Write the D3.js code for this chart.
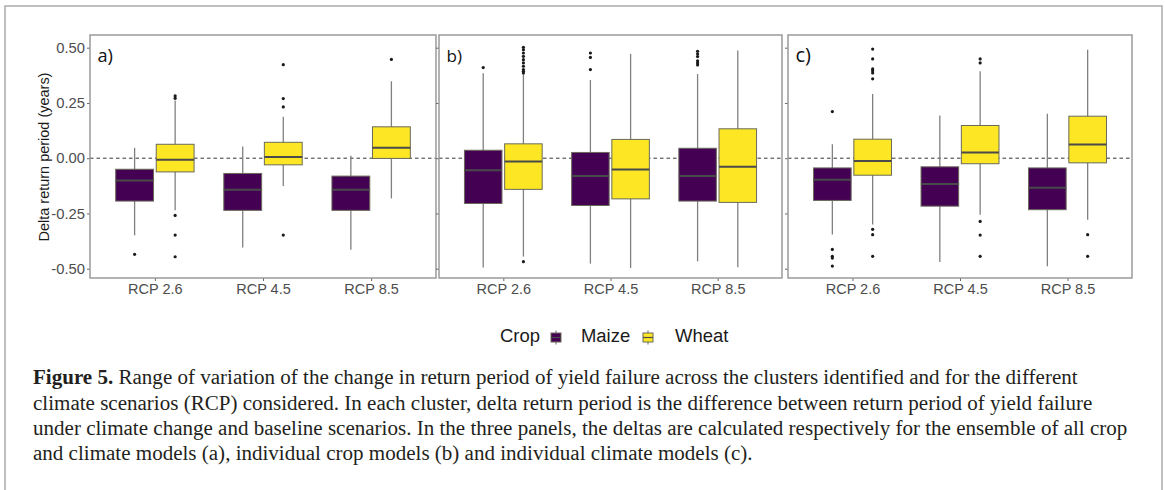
<!DOCTYPE html>
<html><head><meta charset="utf-8">
<script src="https://cdn.jsdelivr.net/npm/d3@7"></script>
<style>body{margin:0;background:#fff} svg{display:block}</style>
</head><body><svg id="c" width="1165" height="490"></svg>
<script>
// ---------- data ----------
const scenarios = ["RCP 2.6", "RCP 4.5", "RCP 8.5"];
const crops = ["Maize", "Wheat"];
const cropColors = ["#440154", "#FDE725"];
const panelLabels = ["a)", "b)", "c)"];
const yTicks = [0.5, 0.25, 0, -0.25, -0.5];
const yTitle = "Delta return period (years)";
const legendTitle = "Crop";

// box stats per scenario: [lower whisker, q1, median, q3, upper whisker]
const panelA_maize = [[-0.349, -0.194, -0.101, -0.050, 0.047], [-0.404, -0.236, -0.143, -0.069, 0.053], [-0.414, -0.236, -0.143, -0.081, 0.011]];
const panelA_wheat = [[-0.236, -0.062, -0.007, 0.063, 0.261], [-0.126, -0.030, 0.005, 0.072, 0.188], [-0.182, -0.001, 0.047, 0.142, 0.348]];
const panelA_maizeOut = [[-0.435], [], []];
const panelA_wheatOut = [[0.282, 0.271, -0.259, -0.348, -0.446], [0.423, 0.270, 0.232, -0.348], [0.447]];

const panelB_maize = [[-0.495, -0.205, -0.054, 0.036, 0.384], [-0.477, -0.214, -0.080, 0.026, 0.354], [-0.467, -0.194, -0.081, 0.045, 0.381]];
const panelB_wheat = [[-0.445, -0.141, -0.015, 0.065, 0.381], [-0.497, -0.184, -0.051, 0.085, 0.472], [-0.494, -0.200, -0.039, 0.133, 0.487]];
const panelB_maizeOut = [[0.410], [0.476, 0.456, 0.401], [0.484, 0.472, 0.460, 0.441, 0.431, 0.422]];
const panelB_wheatOut = [[0.502, 0.491, 0.476, 0.461, 0.446, 0.431, 0.416, 0.401, 0.393, 0.386, -0.468], [], []];

const panelC_maize = [[-0.345, -0.191, -0.098, -0.044, 0.063], [-0.470, -0.217, -0.117, -0.039, 0.193], [-0.489, -0.233, -0.134, -0.044, 0.201]];
const panelC_wheat = [[-0.300, -0.077, -0.013, 0.086, 0.291], [-0.256, -0.025, 0.026, 0.148, 0.393], [-0.278, -0.021, 0.062, 0.190, 0.491]];
const panelC_maizeOut = [[0.211, -0.413, -0.444, -0.452, -0.488], [], []];
const panelC_wheatOut = [[0.494, 0.449, 0.404, 0.396, 0.386, 0.359, -0.322, -0.346, -0.444], [0.449, 0.431, -0.286, -0.348, -0.444], [-0.346, -0.444]];

const captionBold = "Figure 5.";
const captionLines = [
  " Range of variation of the change in return period of yield failure across the clusters identified and for the different",
  "climate scenarios (RCP) considered. In each cluster, delta return period is the difference between return period of yield failure",
  "under climate change and baseline scenarios. In the three panels, the deltas are calculated respectively for the ensemble of all crop",
  "and climate models (a), individual crop models (b) and individual climate models (c)."
];

// ---------- layout ----------
const svg = d3.select("#c");
svg.append("rect").attr("width", 1165).attr("height", 490).attr("fill", "#fff");
svg.append("rect").attr("x", 5).attr("y", 6).attr("width", 1157).attr("height", 520)
  .attr("fill", "none").attr("stroke", "#ababab").attr("stroke-width", 1.5);

const panelTop = 35, panelBottom = 278;
const panelX = [[90, 436], [439, 782], [788, 1132]];
const y = d3.scaleLinear().domain([-0.5, 0.5]).range([268.7, 47.7]);

const panelData = [
  [panelA_maize, panelA_wheat, panelA_maizeOut, panelA_wheatOut],
  [panelB_maize, panelB_wheat, panelB_maizeOut, panelB_wheatOut],
  [panelC_maize, panelC_wheat, panelC_maizeOut, panelC_wheatOut]
];

const sans = "'Liberation Sans', Arial, sans-serif";

// fit a text element's font size so its width equals target
function fit(sel, target) {
  const fs = parseFloat(sel.style("font-size"));
  const w = sel.node().getComputedTextLength();
  sel.style("font-size", (fs * target / w) + "px");
}

panelData.forEach((pd, pi) => {
  const [x0, x1] = panelX[pi];
  const x = d3.scalePoint().domain(scenarios).range([x0, x1]).padding(0.6);
  const step = x.step();
  const g = svg.append("g");

  // y axis
  const ya = g.append("g").attr("transform", `translate(${x0},0)`)
    .call(d3.axisLeft(y).tickValues(yTicks).tickSize(3).tickPadding(2)
      .tickFormat(pi === 0 ? (d => d.toFixed(2)) : (() => "")));
  ya.select(".domain").remove();
  ya.selectAll("line").attr("stroke", "#666").attr("stroke-width", 1);
  ya.selectAll("text").attr("fill", "#4d4d4d").style("font-family", sans).style("font-size", "14.8px");

  // x axis
  const xa = g.append("g").attr("transform", `translate(0,${panelBottom})`)
    .call(d3.axisBottom(x).tickSize(3).tickPadding(3));
  xa.select(".domain").remove();
  xa.selectAll("line").attr("stroke", "#666");
  xa.selectAll("text").attr("fill", "#4d4d4d").style("font-family", sans).style("font-size", "14.5px")
    .attr("dy", "0.71em");

  // zero line
  g.append("line").attr("x1", x0).attr("x2", x1).attr("y1", y(0)).attr("y2", y(0))
    .attr("stroke", "#333").attr("stroke-width", 1).attr("stroke-dasharray", "3.5,3");

  const bw = 0.35 * step, off = 0.1875 * step;
  [0, 1].forEach(ci => {
    const stats = pd[ci], outs = pd[ci + 2];
    const gc = g.append("g");
    stats.forEach((s, si) => {
      const cx = x(scenarios[si]) + (ci === 0 ? -off : off);
      gc.append("line").attr("x1", cx).attr("x2", cx).attr("y1", y(s[0])).attr("y2", y(s[4]))
        .attr("stroke", "#808080").attr("stroke-width", 1.3);
      gc.append("rect").attr("x", cx - bw / 2).attr("width", bw)
        .attr("y", y(s[3])).attr("height", y(s[1]) - y(s[3]))
        .attr("fill", cropColors[ci]).attr("stroke", "#6a6a5a").attr("stroke-width", 1);
      gc.append("line").attr("x1", cx - bw / 2).attr("x2", cx + bw / 2).attr("y1", y(s[2])).attr("y2", y(s[2]))
        .attr("stroke", "#4a4a4a").attr("stroke-width", 2);
      gc.selectAll(null).data(outs[si]).enter().append("circle")
        .attr("cx", cx).attr("cy", d => y(d)).attr("r", 1.6).attr("fill", "#1a1a1a");
    });
  });

  // border
  g.append("rect").attr("x", x0).attr("y", panelTop).attr("width", x1 - x0).attr("height", panelBottom - panelTop)
    .attr("fill", "none").attr("stroke", "#9a9a9a").attr("stroke-width", 1.5);

  const pl = g.append("text").attr("x", x0 + 7.5).attr("y", 62).text(panelLabels[pi])
    .style("font-family", "'Open Sans', sans-serif").style("font-size", "19px").attr("fill", "#111");
  fit(pl, 15.5);
});

// y title
const yt = svg.append("text").attr("transform", "translate(49,157) rotate(-90)").attr("text-anchor", "middle")
  .text(yTitle).style("font-family", sans).style("font-size", "14.5px").attr("fill", "#1a1a1a");
fit(yt, 169);

// legend
const lg = svg.append("g").style("font-family", sans).attr("fill", "#1a1a1a");
const lt = lg.append("text").attr("x", 500).attr("y", 342).text(legendTitle).style("font-size", "17.5px");
fit(lt, 40);
const lfs = lt.style("font-size");
const keyX = [556, 648], labX = [581, 675];
crops.forEach((c, i) => {
  const kx = keyX[i], ky = 337.5;
  lg.append("line").attr("x1", kx).attr("x2", kx).attr("y1", ky - 7).attr("y2", ky + 7)
    .attr("stroke", "#808080").attr("stroke-width", 1.2);
  lg.append("rect").attr("x", kx - 5).attr("y", ky - 4.5).attr("width", 10).attr("height", 9)
    .attr("fill", cropColors[i]).attr("stroke", "#6a6a5a").attr("stroke-width", 1);
  lg.append("line").attr("x1", kx - 5).attr("x2", kx + 5).attr("y1", ky).attr("y2", ky)
    .attr("stroke", "#4a4a4a").attr("stroke-width", 1.2);
  lg.append("text").attr("x", labX[i]).attr("y", 342).text(c).style("font-size", lfs);
});

// caption
const serif = "'Liberation Serif', 'Times New Roman', serif";
const cap = svg.append("g").style("font-family", serif).attr("fill", "#231f20");
const lineY = [384, 409.5, 435, 460];
const texts = [];
captionLines.forEach((t, i) => {
  const tx = cap.append("text").attr("x", 33).attr("y", lineY[i]).style("font-size", "18px");
  if (i === 0) tx.append("tspan").style("font-weight", "bold").text(captionBold);
  tx.append("tspan").text(t);
  texts.push(tx);
});
// fit font size so the third line spans to x≈1128
const w3 = texts[2].node().getComputedTextLength();
const fs = 18 * 1095 / w3;
texts.forEach(t => t.style("font-size", fs + "px"));
</script>
</body></html>
